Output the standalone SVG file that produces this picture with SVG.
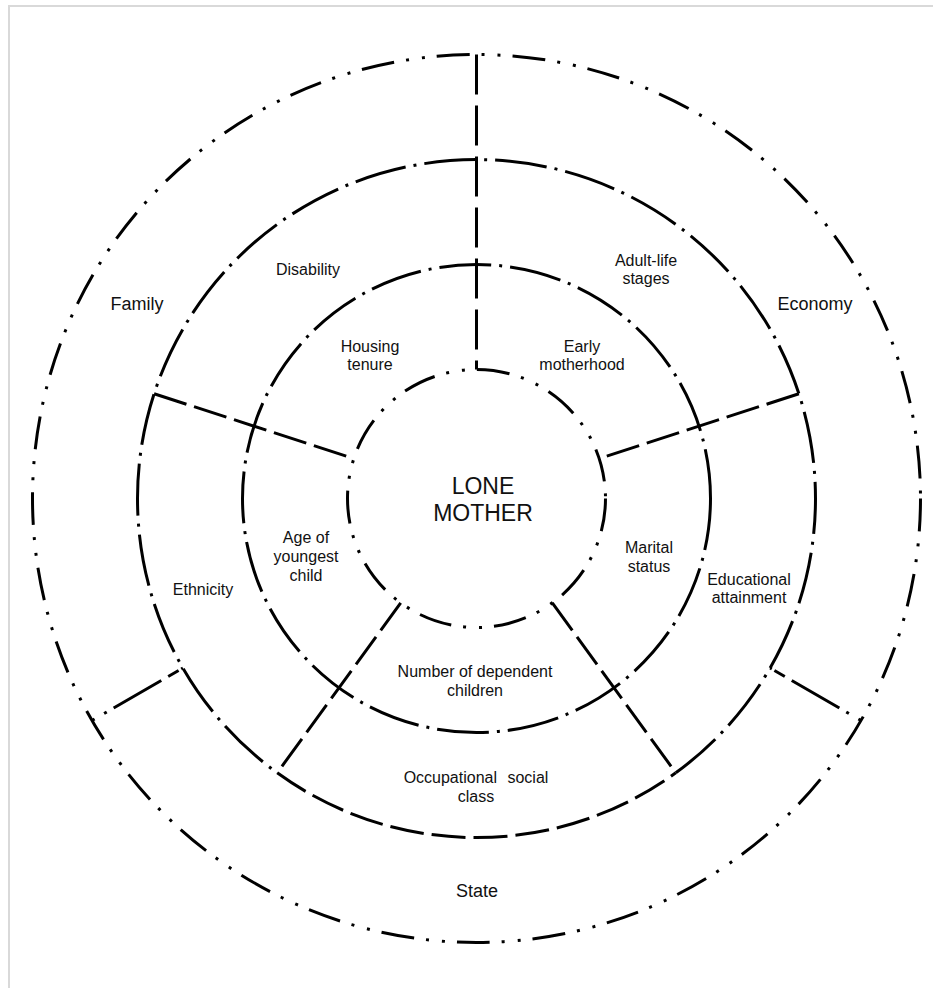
<svg xmlns="http://www.w3.org/2000/svg" width="933" height="988" viewBox="0 0 933 988">
<style>
.ring{fill:none;stroke:#000;stroke-width:3;stroke-linecap:butt}
.dd{stroke-dasharray:33 12 3 13 3 12}
.d1{stroke-dasharray:52 8 3 8}
.dash{stroke-dasharray:34 8}
.spoke{fill:none;stroke:#000;stroke-width:3;stroke-linecap:butt;stroke-dasharray:34 8}
.spokev{stroke-dasharray:40 11}
.spokeo{stroke-dasharray:3 11 3 8 55 8 12}
text{font-family:"Liberation Sans",Arial,sans-serif;fill:#111;text-anchor:middle}
.s{font-size:16px}
.m{font-size:18px}
.l{font-size:23px}
</style>
<rect width="933" height="988" fill="#fff"/>
<path d="M9 988 V6 H933" fill="none" stroke="#d9d9d9" stroke-width="2"/>
<g id="rings">
<circle id="outer-ring" class="ring dd" cx="476.5" cy="498.5" r="444"/>
<path id="third-ring-upper" class="ring d1" d="M675.8 772.8 A339 339 0 1 0 277.2 772.8"/>
<path id="third-ring-lower" class="ring dash" d="M277.2 772.8 A339 339 0 0 0 675.8 772.8"/>
<circle id="middle-ring" class="ring d1" cx="476.5" cy="498.5" r="234"/>
<circle id="inner-ring" class="ring dd" cx="476.5" cy="498.5" r="129"/>
</g>
<g id="connectors">
<line class="spoke spokev" x1="476.5" y1="54.5" x2="476.5" y2="369.5"/>
<line class="spoke" x1="154.1" y1="393.7" x2="353.8" y2="458.6"/>
<line class="spoke" x1="798.9" y1="393.7" x2="599.2" y2="458.6"/>
<line class="spoke" x1="400.7" y1="602.9" x2="277.2" y2="772.8"/>
<line class="spoke" x1="552.3" y1="602.9" x2="675.8" y2="772.8"/>
<line class="spoke spokeo" x1="92" y1="720.5" x2="182.9" y2="668"/>
<line class="spoke spokeo" x1="861" y1="720.5" x2="770.1" y2="668"/>
</g>
<g id="lone-mother"><text class="l" x="483" y="494">LONE</text><text class="l" x="483" y="521">MOTHER</text></g>
<g id="family"><text class="m" x="137" y="310">Family</text></g>
<g id="economy"><text class="m" x="815" y="310">Economy</text></g>
<g id="state"><text class="m" x="477" y="897">State</text></g>
<g id="disability"><text class="s" x="308" y="275">Disability</text></g>
<g id="housing-tenure"><text class="s" x="370" y="352">Housing</text><text class="s" x="370" y="370">tenure</text></g>
<g id="adult-life-stages"><text class="s" x="646" y="266">Adult-life</text><text class="s" x="646" y="284">stages</text></g>
<g id="early-motherhood"><text class="s" x="582" y="352">Early</text><text class="s" x="582" y="370">motherhood</text></g>
<g id="age-of-youngest-child"><text class="s" x="306" y="543">Age of</text><text class="s" x="306" y="562">youngest</text><text class="s" x="306" y="581">child</text></g>
<g id="ethnicity"><text class="s" x="203" y="595">Ethnicity</text></g>
<g id="marital-status"><text class="s" x="649" y="553">Marital</text><text class="s" x="649" y="572">status</text></g>
<g id="educational-attainment"><text class="s" x="749" y="585">Educational</text><text class="s" x="749" y="603">attainment</text></g>
<g id="number-of-dependent-children"><text class="s" x="475" y="677">Number of dependent</text><text class="s" x="475" y="696">children</text></g>
<g id="occupational-social-class"><text class="s" x="476" y="783" word-spacing="6">Occupational social</text><text class="s" x="476" y="802">class</text></g>
</svg>
